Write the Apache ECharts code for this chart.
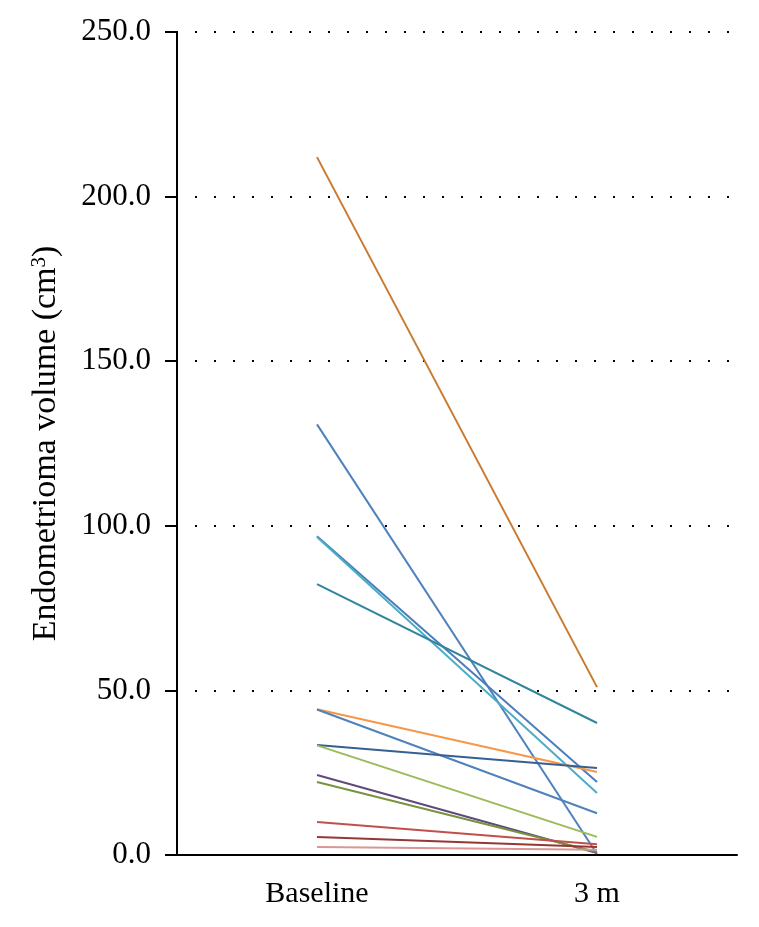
<!DOCTYPE html>
<html>
<head>
<meta charset="utf-8">
<script src="https://cdn.jsdelivr.net/npm/echarts@6/dist/echarts.min.js"></script>
<style>
  html, body { margin: 0; padding: 0; background: #fff; }
  #chart { width: 759px; height: 927px; }
</style>
</head>
<body>
<div id="chart"></div>
<script>
// time points on the x axis
const timePoints = ['Baseline', '3 m'];

// endometrioma volume (cm3) per patient: baseline and at 3 months
const baseline = [212.0, 130.8, 96.8, 96.6, 82.3, 44.3, 44.2, 33.4, 33.3, 24.3, 22.2, 10.0, 5.5, 2.4];
const month3   = [51.0, 0.3, 22.2, 18.8, 40.1, 25.2, 12.7, 26.4, 5.5, 0.6, 0.9, 3.3, 2.4, 1.6];

// y axis tick values
const yTicks = [0, 50, 100, 150, 200, 250];

const lineColors = [
    '#c97a31', '#4f81bd', '#4a7ebb', '#4bacc6', '#31859c', '#f79646', '#4f81bd',
    '#376092', '#9bbb59', '#604a7b', '#77933c', '#c0504d', '#953735', '#d99694'
];

const chart = echarts.init(document.getElementById('chart'));
const fontFamily = '"Liberation Serif", "DejaVu Serif", serif';

const series = baseline.map((v, i) => ({
    type: 'line',
    data: [v, month3[i]],
    symbol: 'none',
    silent: true,
    lineStyle: { color: lineColors[i], width: 2 }
}));

chart.setOption({
    animation: false,
    grid: { left: 177, right: 22, top: 32, bottom: 72 },
    xAxis: {
        type: 'category',
        data: timePoints,
        boundaryGap: true,
        axisLine: { lineStyle: { color: '#000', width: 2 } },
        axisTick: { length: 12, lineStyle: { color: '#000', width: 2 } },
        axisLabel: { color: '#000', fontFamily: fontFamily, fontSize: 30, margin: 24 }
    },
    yAxis: {
        type: 'value',
        min: yTicks[0],
        max: yTicks[yTicks.length - 1],
        interval: 50,
        name: '{n|Endometrioma volume (cm}{s|3}{n|)}',
        nameLocation: 'middle',
        nameGap: 113,
        nameRotate: 90,
        nameTextStyle: {
            rich: {
                n: { fontFamily: fontFamily, fontSize: 34, color: '#000' },
                s: { fontFamily: fontFamily, fontSize: 21, color: '#000', verticalAlign: 'top', padding: [0, 0, 14, 0] }
            }
        },
        axisLine: { show: true, lineStyle: { color: '#000', width: 2 } },
        axisTick: { show: true, length: 12, lineStyle: { color: '#000', width: 2 } },
        axisLabel: {
            color: '#000', fontFamily: fontFamily, fontSize: 31, margin: 26,
            formatter: v => v.toFixed(1)
        },
        splitLine: {
            show: true,
            lineStyle: { color: '#000', width: 2, type: [2, 17], dashOffset: -18 }
        }
    },
    series: series
});
</script>
</body>
</html>
